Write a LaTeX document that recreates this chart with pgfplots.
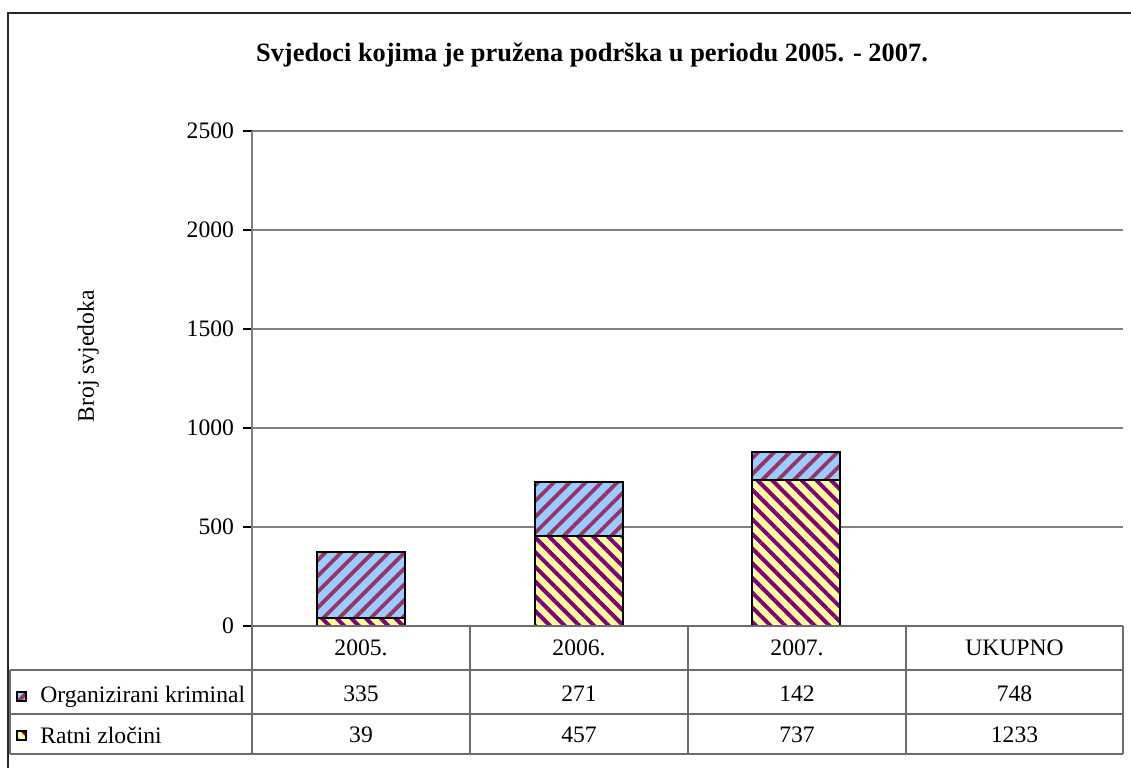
\documentclass[border=0pt]{standalone}
\usepackage{fontspec}
\setmainfont{Liberation Serif}
\usepackage{pgfplots}
\pgfplotsset{compat=1.18}
\usetikzlibrary{patterns.meta}

\definecolor{orgbg}{HTML}{99CCFF}
\definecolor{orgline}{HTML}{993366}
\definecolor{ratbg}{HTML}{FFFF99}
\definecolor{ratline}{HTML}{800080}
\definecolor{gridgray}{HTML}{808080}

\tikzset{
  orgfill/.style={preaction={fill=orgbg}, pattern={Lines[angle=45,distance=5.6pt,line width=1.9pt]}, pattern color=orgline},
  ratfill/.style={preaction={fill=ratbg}, pattern={Lines[angle=-45,distance=5.2pt,line width=2pt]}, pattern color=ratline},
  tbl/.style={draw=gridgray!85!black, line width=0.9pt},
}

\begin{document}
\begin{tikzpicture}[font=\fontsize{11.8}{14}\selectfont]
\useasboundingbox (0,0) rectangle (565.5pt,-383.5pt);

\begin{axis}[
    at={(126pt,-313pt)}, anchor=south west,
    width=435.5pt, height=247.5pt, scale only axis,
    xmin=-0.5, xmax=3.5, ymin=0, ymax=2500,
    xtick=\empty, ytick={0,500,...,2500},
    axis x line=none, axis y line=left,
    axis line style={-, gridgray, line width=0.9pt},
    ymajorgrids, grid style={gridgray, line width=0.6pt},
    tick align=outside, major tick length=4.5pt,
    ytick style={black, line width=0.6pt},
    yticklabel style={xshift=-1pt},
    /pgf/number format/assume math mode=true,
    /pgf/number format/set thousands separator={},
    ylabel={Broj svjedoka},
    ylabel style={at={(axis description cs:-0.188,0.545)}, anchor=center},
    ybar stacked, bar width=44pt,
]
\addplot[draw=black, line width=1pt, ratfill] coordinates {(0,39)(1,457)(2,737)};
\addplot[draw=black, line width=1pt, orgfill] coordinates {(0,335)(1,271)(2,142)};
\end{axis}

\begin{scope}[x=0.5pt, y=-0.5pt]
  % outer frame
  \draw[black!85, line width=1pt] (8,800) -- (8,13) -- (1200,13);
  % title
  \node[font=\fontsize{13.2}{15}\selectfont\bfseries] at (592,55) {Svjedoci kojima je pružena podrška u periodu 2005. - 2007.};
  % data table
  \draw[tbl] (252,626) -- (1123,626);
  \draw[tbl] (10,670) -- (1123,670);
  \draw[tbl] (10,714) -- (1123,714);
  \draw[tbl] (10,754) -- (1123,754);
  \draw[tbl] (10,670) -- (10,754);
  \foreach \xx in {252,470,688,906,1123} \draw[tbl] (\xx,626) -- (\xx,754);
  \foreach \xx/\lab in {361/2005., 579/2006., 797/2007., 1014.5/UKUPNO}
    \node at (\xx,648) {\lab};
  \foreach \xx/\va/\vb in {361/335/39, 579/271/457, 797/142/737, 1014.5/748/1233} {
    \node at (\xx,694) {\va};
    \node at (\xx,735) {\vb};
  }
  % legend keys
  \path[draw=black, line width=0.8pt, orgfill] (17,692) rectangle (26,701);
  \path[draw=black, line width=0.8pt, ratfill] (17,731) rectangle (26,740);
  \node[anchor=base west, inner sep=0pt] at (40,702) {Organizirani kriminal};
  \node[anchor=base west, inner sep=0pt] at (40,743) {Ratni zločini};
\end{scope}
\end{tikzpicture}
\end{document}
